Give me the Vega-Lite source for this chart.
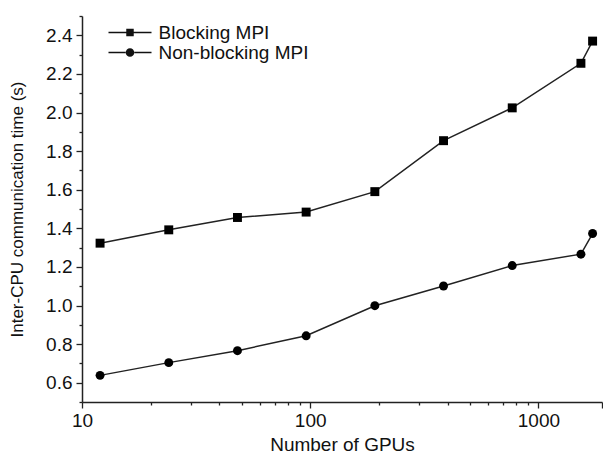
{
  "$schema": "https://vega.github.io/schema/vega-lite/v6.json",
  "autosize": "none",
  "width": 520,
  "height": 386,
  "padding": {"left": 82, "top": 16, "right": 1, "bottom": 54},
  "background": "white",
  "config": {
    "view": {"stroke": null},
    "font": "Liberation Sans",
    "axis": {
      "grid": false,
      "domainColor": "#222",
      "domainWidth": 1.5,
      "tickColor": "#222",
      "tickWidth": 1.3,
      "labelColor": "#111",
      "titleColor": "#111",
      "labelFont": "Liberation Sans",
      "titleFont": "Liberation Sans",
      "labelFontSize": 19,
      "titleFontSize": 19,
      "titleFontWeight": "normal"
    }
  },
  "data": {
    "values": [
      {"gpus": 12, "time": 1.323, "series": "Blocking MPI"},
      {"gpus": 24, "time": 1.392, "series": "Blocking MPI"},
      {"gpus": 48, "time": 1.456, "series": "Blocking MPI"},
      {"gpus": 96, "time": 1.484, "series": "Blocking MPI"},
      {"gpus": 192, "time": 1.590, "series": "Blocking MPI"},
      {"gpus": 384, "time": 1.854, "series": "Blocking MPI"},
      {"gpus": 768, "time": 2.024, "series": "Blocking MPI"},
      {"gpus": 1536, "time": 2.255, "series": "Blocking MPI"},
      {"gpus": 1728, "time": 2.370, "series": "Blocking MPI"},
      {"gpus": 12, "time": 0.638, "series": "Non-blocking MPI"},
      {"gpus": 24, "time": 0.704, "series": "Non-blocking MPI"},
      {"gpus": 48, "time": 0.766, "series": "Non-blocking MPI"},
      {"gpus": 96, "time": 0.843, "series": "Non-blocking MPI"},
      {"gpus": 192, "time": 0.999, "series": "Non-blocking MPI"},
      {"gpus": 384, "time": 1.101, "series": "Non-blocking MPI"},
      {"gpus": 768, "time": 1.207, "series": "Non-blocking MPI"},
      {"gpus": 1536, "time": 1.266, "series": "Non-blocking MPI"},
      {"gpus": 1728, "time": 1.373, "series": "Non-blocking MPI"}
    ]
  },
  "encoding": {
    "x": {
      "field": "gpus",
      "type": "quantitative",
      "scale": {"type": "log", "domain": [10, 1900], "nice": false},
      "axis": {
        "title": "Number of GPUs",
        "values": [10, 20, 30, 40, 50, 60, 70, 80, 90, 100, 200, 300, 400, 500, 600, 700, 800, 900, 1000, 1900],
        "labelExpr": "(datum.value == 10 || datum.value == 100 || datum.value == 1000) ? datum.value + '' : ''",
        "tickSize": {"condition": {"test": "datum.value == 10 || datum.value == 100 || datum.value == 1000 || datum.value == 1900", "value": 6}, "value": 3},
        "labelPadding": 3,
        "titlePadding": 5,
        "labelFlush": false,
        "labelOverlap": false
      }
    },
    "y": {
      "field": "time",
      "type": "quantitative",
      "scale": {"domain": [0.5, 2.5], "nice": false, "zero": false},
      "axis": {
        "title": "Inter-CPU communication time (s)",
        "titleFontSize": 17,
        "values": [0.5, 0.6, 0.7, 0.8, 0.9, 1.0, 1.1, 1.2, 1.3, 1.4, 1.5, 1.6, 1.7, 1.8, 1.9, 2.0, 2.1, 2.2, 2.3, 2.4, 2.5],
        "labelExpr": "round(datum.value * 10) % 2 == 0 ? format(datum.value, '.1f') : ''",
        "tickSize": {"condition": {"test": "round(datum.value * 10) % 2 == 0", "value": 6}, "value": 3},
        "labelPadding": 4,
        "titlePadding": 19,
        "labelFlush": false,
        "labelOverlap": false
      }
    }
  },
  "layer": [
    {
      "mark": {"type": "line", "color": "#222", "strokeWidth": 1.5},
      "encoding": {"detail": {"field": "series", "type": "nominal"}}
    },
    {
      "mark": {"type": "point", "filled": true, "color": "#000", "size": 80, "opacity": 1},
      "encoding": {
        "shape": {
          "field": "series",
          "type": "nominal",
          "scale": {"domain": ["Blocking MPI", "Non-blocking MPI"], "range": ["square", "circle"]},
          "legend": null
        }
      }
    },
    {
      "transform": [{"filter": "datum.gpus < 0"}],
      "mark": {"type": "point", "filled": true, "color": "#111", "opacity": 1},
      "encoding": {
        "shape": {
          "field": "series",
          "type": "nominal",
          "scale": {
            "domain": ["Blocking MPI", "Non-blocking MPI"],
            "range": [
              "M-1,-0.035H-0.174V0.035H-1Z M0.174,-0.035H1V0.035H0.174Z M-0.174,-0.174H0.174V0.174H-0.174Z",
              "M-1,-0.035H-0.19V0.035H-1Z M0.19,-0.035H1V0.035H0.19Z M-0.2,0A0.2,0.2,0,1,0,0.2,0A0.2,0.2,0,1,0,-0.2,0Z"
            ]
          },
          "legend": {
            "title": null,
            "orient": "none",
            "legendX": 25.5,
            "legendY": 6.5,
            "padding": 0,
            "rowPadding": 0,
            "clipHeight": 20,
            "symbolSize": 1849,
            "symbolOpacity": 1,
            "labelOffset": 6,
            "labelFontSize": 19,
            "labelFont": "Liberation Sans",
            "labelColor": "#111"
          }
        }
      }
    }
  ],
  "resolve": {"scale": {"shape": "independent"}}
}
